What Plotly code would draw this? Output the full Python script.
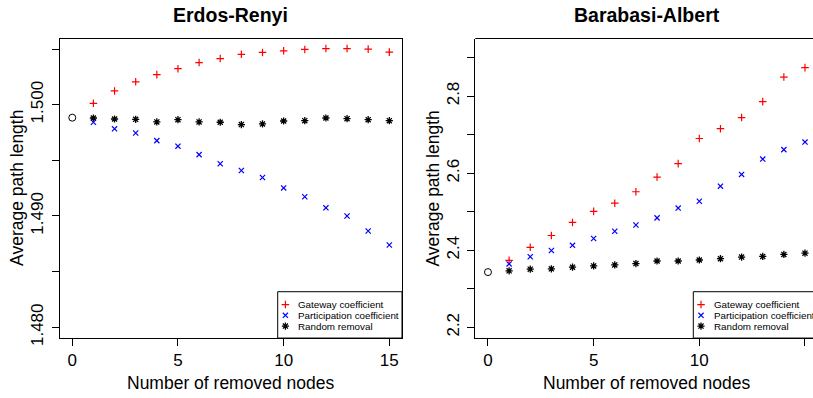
import plotly.graph_objects as go

# ---- data -------------------------------------------------------------
removed = list(range(1, 16))

er_start = 1.49883
er_gateway = [1.50012, 1.50123, 1.50205, 1.50270, 1.50323, 1.50378, 1.50414, 1.50452,
              1.50469, 1.50484, 1.50496, 1.50504, 1.50504, 1.50499, 1.50472]
er_participation = [1.49842, 1.49783, 1.49745, 1.49677, 1.49627, 1.49551, 1.49469, 1.49408,
                    1.49346, 1.49252, 1.49173, 1.49073, 1.49000, 1.48865, 1.48739]
er_random = [1.49880, 1.49871, 1.49868, 1.49845, 1.49865, 1.49845, 1.49842, 1.49821,
             1.49827, 1.49853, 1.49856, 1.49880, 1.49874, 1.49865, 1.49856]

ba_start = 2.3432
ba_gateway = [2.3737, 2.4076, 2.4381, 2.4720, 2.5008, 2.5220, 2.5517, 2.5898,
              2.6246, 2.6898, 2.7153, 2.7441, 2.7856, 2.8492, 2.8737]
ba_participation = [2.3644, 2.3831, 2.3992, 2.4127, 2.4305, 2.4492, 2.4653, 2.4839,
                    2.5093, 2.5271, 2.5661, 2.5966, 2.6364, 2.6610, 2.6805]
ba_random = [2.3466, 2.3508, 2.3517, 2.3559, 2.3593, 2.3619, 2.3653, 2.3720,
             2.3720, 2.3746, 2.3780, 2.3822, 2.3839, 2.3890, 2.3924]

x_ticks = [0, 5, 10, 15]
er_ticks = [1.480, 1.485, 1.490, 1.495, 1.500, 1.505]
er_ticktext = ["1.480", "", "1.490", "", "1.500", ""]
ba_ticks = [2.2, 2.3, 2.4, 2.5, 2.6, 2.7, 2.8, 2.9]
ba_ticktext = ["2.2", "", "2.4", "", "2.6", "", "2.8", ""]

series_names = ["Gateway coefficient", "Participation coefficient", "Random removal"]
titles = ["Erdos-Renyi", "Barabasi-Albert"]

# ---- styling ----------------------------------------------------------
W, H = 813, 398
FONT = "Liberation Sans, Arial, Helvetica, sans-serif"
styles = [
    dict(symbol="cross-thin", size=5.4, color="#ff0000", lw=1.2),
    dict(symbol="x-thin", size=5.2, color="#0000ff", lw=1.2),
    dict(symbol="asterisk", size=6.0, color="#000000", lw=1.3),
]

# panel boxes in pixels (left, right, top, bottom)
panels = [
    dict(l=59.6, r=402.0, t=39.3, b=345.0, xr=[-0.6, 15.6], yr=[1.479032, 1.505942],
         yt=er_ticks, ytt=er_ticktext, start=er_start,
         series=[er_gateway, er_participation, er_random], leg_l=277.7),
    dict(l=475.3, r=813.0, t=39.3, b=345.0, xr=[-0.6, 15.379], yr=[2.17203, 2.9493],
         yt=ba_ticks, ytt=ba_ticktext, start=ba_start,
         series=[ba_gateway, ba_participation, ba_random], leg_l=693.3),
]


def px(x):
    return x / W


def py(y):
    return 1 - y / H


fig = go.Figure()
layout = dict(
    width=W, height=H, margin=dict(l=0, r=0, t=0, b=0),
    paper_bgcolor="white", plot_bgcolor="rgba(0,0,0,0)",
    showlegend=False, font=dict(family=FONT, color="black"),
    annotations=[], shapes=[],
)

for i, p in enumerate(panels):
    k = "" if i == 0 else str(i + 1)
    xa, ya = "x" + k, "y" + k
    axis_common = dict(
        showgrid=False, zeroline=False, showline=True, linecolor="black", linewidth=1,
        ticks="outside", ticklen=7, tickwidth=1, tickcolor="black",
        tickfont=dict(family=FONT, size=17, color="black"), fixedrange=True,
    )
    layout["xaxis" + k] = dict(
        axis_common, domain=[px(p["l"]), px(p["r"])], range=p["xr"], anchor=ya,
        tickvals=x_ticks, ticktext=[str(v) for v in x_ticks],
        mirror=(i == 0),
    )
    layout["yaxis" + k] = dict(
        axis_common, domain=[py(p["b"]), py(p["t"])], range=p["yr"], anchor=xa,
        tickvals=p["yt"], ticktext=p["ytt"], tickangle=-90, ticklabelstandoff=2,
        mirror=(i == 0),
    )
    if i == 1:
        # top edge of the box (right edge falls outside the frame)
        layout["shapes"].append(dict(type="line", xref="paper", yref="paper",
                                     x0=px(p["l"]), x1=1.01, y0=py(p["t"]), y1=py(p["t"]),
                                     line=dict(color="black", width=1)))

    # starting value (no nodes removed)
    fig.add_trace(go.Scatter(
        x=[0], y=[p["start"]], xaxis=xa, yaxis=ya, mode="markers", hoverinfo="skip",
        marker=dict(symbol="circle-open", size=7, color="black", line=dict(width=1, color="black")),
    ))
    for name, vals, st in zip(series_names, p["series"], styles):
        fig.add_trace(go.Scatter(
            x=removed, y=vals, xaxis=xa, yaxis=ya, mode="markers", name=name,
            marker=dict(symbol=st["symbol"], size=st["size"], color=st["color"],
                        line=dict(width=st["lw"], color=st["color"])),
        ))

    cx = (p["l"] + (p["r"] if i == 0 else 817.7)) / 2
    cy = (p["t"] + p["b"]) / 2
    layout["annotations"] += [
        dict(text="<b>%s</b>" % titles[i], x=px(cx), y=py(15), xref="paper", yref="paper",
             showarrow=False, xanchor="center", yanchor="middle",
             font=dict(family=FONT, size=19.5, color="black")),
        dict(text="Number of removed nodes", x=px(cx), y=py(391), xref="paper", yref="paper",
             showarrow=False, xanchor="center", yanchor="middle",
             font=dict(family=FONT, size=17.5, color="black")),
        dict(text="Average path length", x=px(p["l"] - 42), y=py(cy), xref="paper", yref="paper",
             showarrow=False, xanchor="center", yanchor="middle", textangle=-90,
             font=dict(family=FONT, size=17.5, color="black")),
    ]

    # legend box
    L = p["leg_l"]
    layout["shapes"].append(dict(type="rect", xref="paper", yref="paper",
                                 x0=px(L), x1=px(L + 124.3), y0=py(345.0), y1=py(297.7),
                                 line=dict(color="black", width=1), fillcolor="white", layer="below"))
    rows = [310.8, 321.8, 332.8]
    for name, st, ry in zip(series_names, styles, rows):
        layout["annotations"].append(dict(
            text=name, x=px(L + 18.3), y=py(ry), xref="paper", yref="paper",
            showarrow=False, xanchor="left", yanchor="middle",
            font=dict(family=FONT, size=9.8, color="black")))
        fig.add_trace(go.Scatter(
            x=[L + 7.7], y=[ry], xaxis="x3", yaxis="y3", mode="markers", hoverinfo="skip",
            cliponaxis=False,
            marker=dict(symbol=st["symbol"], size=st["size"], color=st["color"],
                        line=dict(width=st["lw"], color=st["color"])),
        ))

# pixel-space overlay used for the legend keys
layout["xaxis3"] = dict(domain=[0, 1], range=[0, W], visible=False, fixedrange=True, anchor="y3")
layout["yaxis3"] = dict(domain=[0, 1], range=[H, 0], visible=False, fixedrange=True, anchor="x3")

fig.update_layout(**layout)
fig.write_html("out.html")
